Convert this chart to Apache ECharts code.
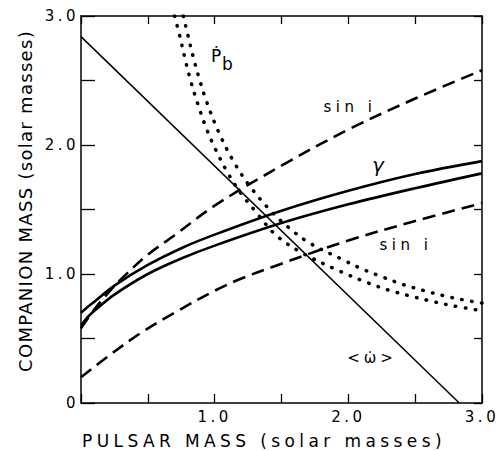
<!DOCTYPE html>
<html>
<head>
<meta charset="utf-8">
<script src="https://cdn.jsdelivr.net/npm/echarts@6/dist/echarts.min.js"></script>
<style>
  html, body { margin: 0; padding: 0; background: #fff; }
  #chart { width: 499px; height: 451px; }
  text[style*="lsxt"], text[font-family*="lsxt"] { letter-spacing: 4.4px; }
  text[style*="lsyt"], text[font-family*="lsyt"] { letter-spacing: 1.3px; }
  text[style*="lstk"], text[font-family*="lstk"] { letter-spacing: 3.5px; }
  text[style*="lssi"], text[font-family*="lssi"] { letter-spacing: 4.5px; }
  text[style*="lsom"], text[font-family*="lsom"] { letter-spacing: 4px; }
</style>
</head>
<body>
<div id="chart"></div>
<script>
// ---- data (solar masses) ----
const xTickValues = [1, 2, 3];
const xTickText = ['1.0', '2.0', '3.0'];
const yTickValues = [0, 1, 2, 3];
const yTickText = ['0', '1.0', '2.0', '3.0'];

const omegaX = [0, 2.83];
const omegaY = [2.84, 0];

const gammaX = [0, 0.05, 0.1, 0.25, 0.5, 0.75, 1.0, 1.5, 2.0, 2.5, 3.0];
const gammaUpperY = [0.70, 0.745, 0.785, 0.91, 1.07, 1.20, 1.305, 1.49, 1.645, 1.775, 1.875];
const gammaLowerY = [0.60, 0.665, 0.715, 0.84, 1.0, 1.12, 1.22, 1.395, 1.54, 1.665, 1.78];

const sinUpperX = [0, 0.1, 0.2, 0.3, 0.5, 0.7, 1.0, 1.5, 2.0, 2.5, 3.0];
const sinUpperY = [0.58, 0.725, 0.85, 0.96, 1.15, 1.30, 1.53, 1.84, 2.12, 2.36, 2.58];
const sinLowerX = [0, 0.2, 0.45, 0.7, 1.0, 1.2, 1.5, 2.0, 2.5, 3.0];
const sinLowerY = [0.20, 0.36, 0.545, 0.70, 0.87, 0.965, 1.08, 1.26, 1.41, 1.55];

const pbInnerX = [0.70, 0.74, 0.78, 0.82, 0.87, 0.93, 1.0, 1.1, 1.2, 1.31, 1.46, 1.66, 1.94, 2.15, 2.31, 2.46, 2.61, 2.76, 3.0];
const pbInnerY = [3.0, 2.84, 2.66, 2.50, 2.33, 2.15, 1.98, 1.78, 1.62, 1.48, 1.30, 1.16, 1.02, 0.93, 0.872, 0.83, 0.792, 0.758, 0.715];
const pbOuterX = [0.765, 0.80, 0.84, 0.88, 0.94, 1.03, 1.14, 1.26, 1.41, 1.54, 1.71, 1.96, 2.10, 2.24, 2.41, 2.57, 2.72, 2.87, 3.0];
const pbOuterY = [3.0, 2.85, 2.68, 2.53, 2.335, 2.10, 1.875, 1.685, 1.50, 1.372, 1.24, 1.11, 1.04, 0.983, 0.918, 0.87, 0.83, 0.797, 0.775];

const zip = (xs, ys) => xs.map((x, i) => [x, ys[i]]);

const FONT = 'DejaVu Sans';
const chart = echarts.init(document.getElementById('chart'), null, { renderer: 'svg', width: 499, height: 451 });

function xFmt(v) { const i = xTickValues.indexOf(Math.round(v * 100) / 100); return i >= 0 ? xTickText[i] : ''; }
function yFmt(v) { const i = yTickValues.indexOf(Math.round(v * 100) / 100); return i >= 0 ? yTickText[i] : ''; }

const axisLine = { show: true, onZero: false, lineStyle: { color: '#000', width: 1.5 } };
const curve = (name, data, lineStyle) => ({
  type: 'line', name, data, smooth: 0.35, symbol: 'none', clip: true, lineStyle
});

const option = {
  animation: false,
  backgroundColor: '#fff',
  grid: { left: 81, right: 17, top: 16, bottom: 48, containLabel: false },
  xAxis: [
    { type: 'value', position: 'bottom', min: 0, max: 3, interval: 0.5,
      axisLine, splitLine: { show: false },
      axisTick: { show: true, inside: true, length: 9, lineStyle: { color: '#000', width: 1.3 } },
      axisLabel: { show: true, formatter: xFmt, margin: 6, color: '#000', fontSize: 15, fontFamily: FONT + ', lstk' } },
    { type: 'value', position: 'top', min: 0, max: 3, interval: 0.5,
      axisLine, splitLine: { show: false },
      axisTick: { show: true, inside: true, length: 8, lineStyle: { color: '#000', width: 1.3 } },
      axisLabel: { show: false } }
  ],
  yAxis: [
    { type: 'value', position: 'left', min: 0, max: 3, interval: 0.5,
      axisLine, splitLine: { show: false },
      axisTick: { show: true, inside: true, length: 14, lineStyle: { color: '#000', width: 1.3 } },
      axisLabel: { show: true, formatter: yFmt, margin: 2, color: '#000', fontSize: 15, fontFamily: FONT + ', lstk' } },
    { type: 'value', position: 'right', min: 0, max: 3, interval: 0.5,
      axisLine, splitLine: { show: false },
      axisTick: { show: true, inside: true, length: 8, lineStyle: { color: '#000', width: 1.3 } },
      axisLabel: { show: false } }
  ],
  series: [
    curve('sin i upper', zip(sinUpperX, sinUpperY), { color: '#000', width: 2.6, type: [13, 7] }),
    curve('sin i lower', zip(sinLowerX, sinLowerY), { color: '#000', width: 2.6, type: [13, 7] }),
    curve('Pb inner', zip(pbInnerX, pbInnerY), { color: '#000', width: 3.5, type: [0.5, 9.5], cap: 'round' }),
    curve('Pb outer', zip(pbOuterX, pbOuterY), { color: '#000', width: 3.5, type: [0.5, 9.5], cap: 'round' }),
    { type: 'line', name: 'omega', data: zip(omegaX, omegaY), symbol: 'none', clip: true,
      lineStyle: { color: '#000', width: 1.5 } },
    curve('gamma upper', zip(gammaX, gammaUpperY), { color: '#000', width: 2.6 }),
    curve('gamma lower', zip(gammaX, gammaLowerY), { color: '#000', width: 2.6 })
  ],
  graphic: [
    { type: 'text', x: 25, y: 201, rotation: Math.PI / 2,
      style: { text: 'COMPANION MASS (solar masses)', fill: '#000', fontSize: 18, fontFamily: FONT + ', lsyt', textAlign: 'center', textVerticalAlign: 'middle' } },
    { type: 'text', x: 264, y: 441,
      style: { text: 'PULSAR MASS (solar masses)', fill: '#000', fontSize: 17, fontFamily: FONT + ', lsxt', textAlign: 'center', textVerticalAlign: 'middle' } },
    { type: 'text', x: 211, y: 56,
      style: { text: 'Ṗ', fill: '#000', fontSize: 17, fontFamily: FONT, textAlign: 'left', textVerticalAlign: 'middle' } },
    { type: 'text', x: 222, y: 64,
      style: { text: 'b', fill: '#000', fontSize: 17, fontFamily: FONT, textAlign: 'left', textVerticalAlign: 'middle' } },
    { type: 'text', x: 350, y: 107,
      style: { text: 'sin i', fill: '#000', fontSize: 15, fontFamily: FONT + ', lssi', textAlign: 'center', textVerticalAlign: 'middle' } },
    { type: 'text', x: 406, y: 245,
      style: { text: 'sin i', fill: '#000', fontSize: 15, fontFamily: FONT + ', lssi', textAlign: 'center', textVerticalAlign: 'middle' } },
    { type: 'text', x: 378, y: 165,
      style: { text: 'γ', fill: '#000', fontSize: 20, fontStyle: 'italic', fontFamily: FONT, textAlign: 'center', textVerticalAlign: 'middle' } },
    { type: 'text', x: 372, y: 358,
      style: { text: '<ω̇>', fill: '#000', fontSize: 15, fontFamily: FONT + ', lsom', textAlign: 'center', textVerticalAlign: 'middle' } }
  ]
};
chart.setOption(option);
</script>
</body>
</html>
